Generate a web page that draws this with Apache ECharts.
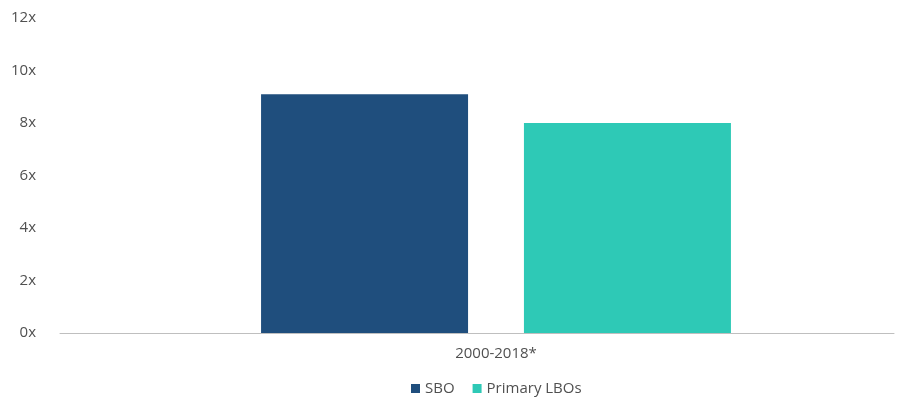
<!DOCTYPE html>
<html>
<head>
<meta charset="utf-8">
<script src="https://cdn.jsdelivr.net/npm/echarts@6/dist/echarts.min.js"></script>
<style>
  html, body { margin: 0; padding: 0; background: #fff; }
  #chart { width: 897px; height: 398px; }
</style>
</head>
<body>
<div id="chart"></div>
<script>
// Exit multiples: secondary buyouts vs primary LBOs
const categories = ['2000-2018*'];
const sboValues = [9.1];
const primaryValues = [8.0];
const seriesNames = ['SBO', 'Primary LBOs'];
const yMax = 12;
const yStep = 2;

const FONT = '"Open Sans", "Noto Sans", sans-serif';
const TEXT = '#505050';

const chart = echarts.init(document.getElementById('chart'), null, { renderer: 'canvas' });

chart.setOption({
  animation: false,
  textStyle: { fontFamily: FONT },
  legend: {
    data: seriesNames,
    top: 381,
    left: 411,
    icon: 'rect',
    itemWidth: 9,
    itemHeight: 9,
    itemGap: 18,
    padding: 0,
    textStyle: { color: TEXT, fontSize: 15, fontFamily: FONT }
  },
  grid: [
    // frame grid: value axis and baseline
    { left: 60, right: 3, top: 18, bottom: 65, containLabel: false },
    // bar grid
    { left: 98, right: 3, top: 18, bottom: 65, containLabel: false }
  ],
  xAxis: [
    {
      gridIndex: 0,
      type: 'category',
      data: [''],
      axisLine: { show: true, lineStyle: { color: '#BFBFBF', width: 1 } },
      axisTick: { show: false },
      axisLabel: { show: false }
    },
    {
      gridIndex: 1,
      type: 'category',
      data: categories,
      axisLine: { show: false },
      axisTick: { show: false },
      axisLabel: { color: TEXT, fontSize: 15, fontFamily: FONT, margin: 13 }
    }
  ],
  yAxis: [
    {
      gridIndex: 0,
      type: 'value',
      min: 0,
      max: yMax,
      interval: yStep,
      axisLine: { show: false },
      axisTick: { show: false },
      splitLine: { show: false },
      axisLabel: {
        color: TEXT,
        fontSize: 15,
        fontFamily: FONT,
        margin: 24,
        formatter: '{value}x'
      }
    },
    {
      gridIndex: 1,
      type: 'value',
      min: 0,
      max: yMax,
      interval: yStep,
      show: false
    }
  ],
  series: [
    {
      name: seriesNames[0],
      type: 'bar',
      xAxisIndex: 1,
      yAxisIndex: 1,
      data: sboValues,
      barWidth: 207,
      barGap: '27%',
      itemStyle: { color: '#1F4E7D' }
    },
    {
      name: seriesNames[1],
      type: 'bar',
      xAxisIndex: 1,
      yAxisIndex: 1,
      data: primaryValues,
      barWidth: 207,
      barGap: '27%',
      itemStyle: { color: '#2EC9B6' }
    }
  ]
});
</script>
</body>
</html>
